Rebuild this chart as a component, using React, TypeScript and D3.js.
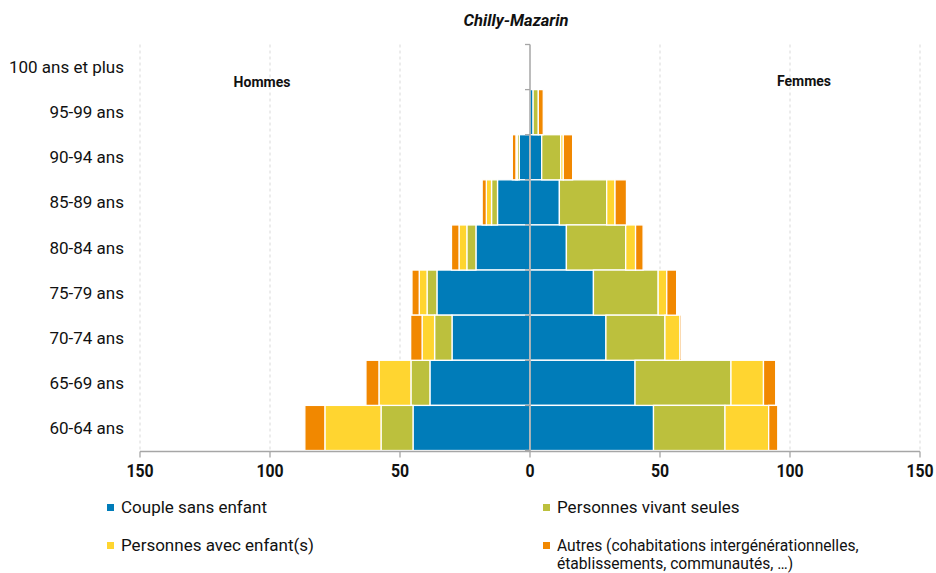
import React from 'react';
import * as d3 from 'd3';

const ages = [
  '100 ans et plus',
  '95-99 ans',
  '90-94 ans',
  '85-89 ans',
  '80-84 ans',
  '75-79 ans',
  '70-74 ans',
  '65-69 ans',
  '60-64 ans',
];

const keys = ['couple', 'seules', 'enfants', 'autres'];
const labels = [
  'Couple sans enfant',
  'Personnes vivant seules',
  'Personnes avec enfant(s)',
  'Autres (cohabitations intergénérationnelles,',
];
const colors = ['#007cb9', '#bcc03d', '#ffd530', '#f18800'];

// Hommes (left side)
const hCouple = [0, 0, 4.1, 12.5, 20.8, 35.8, 30.0, 38.5, 45.0];
const hSeules = [0, 0, 0.8, 2.3, 3.5, 3.8, 6.7, 7.3, 12.3];
const hEnfants = [0, 0, 0.5, 2.0, 3.0, 3.0, 4.8, 12.3, 21.6];
const hAutres = [0, 0, 1.4, 1.6, 2.9, 2.8, 4.4, 5.0, 7.7];

// Femmes (right side)
const fCouple = [0, 1.2, 4.5, 11.3, 14.0, 24.4, 29.2, 40.4, 47.5];
const fSeules = [0, 2.0, 7.3, 18.2, 22.8, 24.9, 22.7, 36.9, 27.5];
const fEnfants = [0, 0, 1.0, 3.2, 3.8, 3.3, 5.8, 12.5, 16.8];
const fAutres = [0, 1.9, 3.6, 4.4, 2.9, 3.8, 0.6, 4.7, 3.5];

const xTicks = [-150, -100, -50, 0, 50, 100, 150];

const W = 936;
const H = 573;
const top = 44.5;
const bottom = 450.5;

const toRows = (a: number[], b: number[], c: number[], d: number[]) =>
  ages.map((age, i) => ({ age, couple: a[i], seules: b[i], enfants: c[i], autres: d[i] }));

const App: React.FC = () => {
  const x = d3.scaleLinear().domain([-150, 150]).range([140, 920]);
  const y = d3.scaleBand().domain(ages).range([top, bottom]).padding(0);
  const stack = d3.stack<any>().keys(keys);
  const hommes = stack(toRows(hCouple, hSeules, hEnfants, hAutres));
  const femmes = stack(toRows(fCouple, fSeules, fEnfants, fAutres));
  const x0 = x(0);
  const font = 'Roboto, sans-serif';

  return (
    <svg width={W} height={H} style={{ position: 'absolute', left: 0, top: 0, fontFamily: font }}>
      <rect width={W} height={H} fill="#fff" />
      <text x={516} y={26} textAnchor="middle" fontSize={16.5} fontWeight="bold" fontStyle="italic" fill="#111">
        Chilly-Mazarin
      </text>

      {/* vertical gridlines */}
      {xTicks.filter((t) => t !== 0).map((t) => (
        <line key={t} x1={x(t)} x2={x(t)} y1={top} y2={bottom} stroke="#d9d9d9" strokeDasharray="3,3" />
      ))}

      {/* bars */}
      {hommes.map((s, k) =>
        s.map((d, i) => (
          <rect
            key={`h${k}-${i}`}
            x={x(-d[1])}
            width={Math.max(0, x(-d[0]) - x(-d[1]))}
            y={y(ages[i])}
            height={y.bandwidth()}
            fill={colors[k]}
            stroke="#fff"
            strokeWidth={1.3}
          />
        ))
      )}
      {femmes.map((s, k) =>
        s.map((d, i) => (
          <rect
            key={`f${k}-${i}`}
            x={x(d[0])}
            width={Math.max(0, x(d[1]) - x(d[0]))}
            y={y(ages[i])}
            height={y.bandwidth()}
            fill={colors[k]}
            stroke="#fff"
            strokeWidth={1.3}
          />
        ))
      )}

      {/* central axis */}
      <line x1={x0} x2={x0} y1={top} y2={bottom + 1} stroke="#a6a6a6" strokeWidth={1.5} />
      {d3.range(ages.length + 1).map((i) => {
        const yy = top + i * y.step();
        return <line key={i} x1={x0 - 5} x2={x0} y1={yy} y2={yy} stroke="#a6a6a6" strokeWidth={1.3} />;
      })}
      {ages.map((a) => (
        <text key={a} x={124} y={(y(a) as number) + y.bandwidth() / 2 + 6} textAnchor="end" fontSize={17} fill="#111">
          {a}
        </text>
      ))}

      {/* bottom axis */}
      <line x1={140} x2={920} y1={bottom + 1} y2={bottom + 1} stroke="#a6a6a6" strokeWidth={1.3} />
      {xTicks.map((t) => (
        <g key={t} transform={`translate(${x(t)},0)`}>
          <line y1={bottom + 1} y2={bottom + 7} stroke="#a6a6a6" strokeWidth={1.3} />
          <text y={477} textAnchor="middle" fontSize={18} fontWeight="bold" fill="#111" transform="scale(0.88,1)">
            {Math.abs(t)}
          </text>
        </g>
      ))}

      <text x={262} y={87} textAnchor="middle" fontSize={14} fontWeight="bold" fill="#111">
        Hommes
      </text>
      <text x={804} y={86} textAnchor="middle" fontSize={14} fontWeight="bold" fill="#111">
        Femmes
      </text>

      {/* legend */}
      {labels.map((l, k) => {
        const lx = k % 2 === 0 ? 107 : 543;
        const ly = k < 2 ? 513 : 551;
        const fs = k === 3 ? 15.6 : 17;
        return (
          <g key={l}>
            <rect x={lx} y={ly - 9} width={7} height={7} fill={colors[k]} />
            <text x={lx + 14} y={ly} fontSize={fs} fill="#111">
              {l}
            </text>
            {k === 3 && (
              <text x={lx + 14} y={569.2} fontSize={fs} fill="#111">
                établissements, communautés, …)
              </text>
            )}
          </g>
        );
      })}
    </svg>
  );
};

export default App;
